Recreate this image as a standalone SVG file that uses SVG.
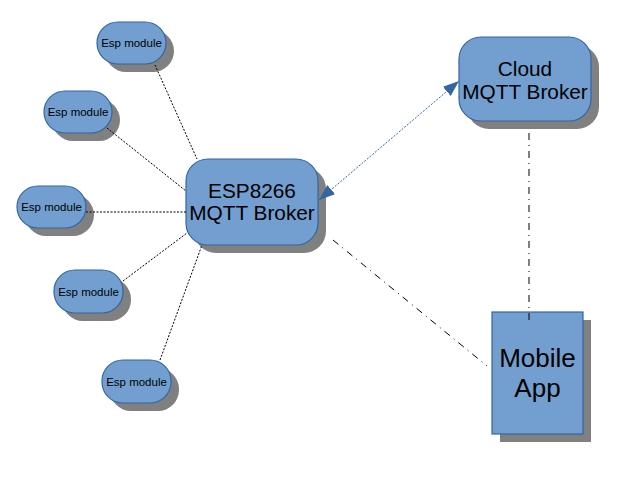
<svg xmlns="http://www.w3.org/2000/svg" width="624" height="482" viewBox="0 0 624 482">
<style>
.sh{fill:#808080;stroke:none}
.nd{fill:#729fcf;stroke:#3465a4;stroke-width:1.2}
.t{font-family:"Liberation Sans",Arial,sans-serif;fill:#000;text-anchor:middle}
.s{font-size:11.5px}
.m{font-size:20.8px}
.b{font-size:26px}
.dot{stroke:#000;stroke-width:1;stroke-dasharray:2 1.5;fill:none}
.dd{stroke:#000;stroke-width:1;stroke-dasharray:7 5 1 5;fill:none}
.blue{stroke:#3465a4;stroke-width:1;stroke-dasharray:2 1.5;fill:none}
</style>
<defs>
<marker id="ah" viewBox="0 0 16 12" refX="16" refY="6" markerWidth="16" markerHeight="12" markerUnits="userSpaceOnUse" orient="auto-start-reverse">
<path d="M0,0 L16,6 L0,12 Z" fill="#3465a4"/>
</marker>
</defs>
<g id="esp1">
<rect class="sh" x="105" y="30" width="69" height="42" rx="21"/>
<rect class="nd" x="97" y="22" width="69" height="42" rx="21"/>
<text class="t s" x="131.5" y="47">Esp module</text>
</g>
<g id="esp2">
<rect class="sh" x="52" y="99" width="68" height="42" rx="21"/>
<rect class="nd" x="44" y="91" width="68" height="42" rx="21"/>
<text class="t s" x="78" y="116">Esp module</text>
</g>
<g id="esp3">
<rect class="sh" x="25" y="194" width="69" height="42" rx="21"/>
<rect class="nd" x="17" y="186" width="69" height="42" rx="21"/>
<text class="t s" x="51.5" y="211">Esp module</text>
</g>
<g id="esp4">
<rect class="sh" x="62" y="278" width="69" height="43" rx="21"/>
<rect class="nd" x="54" y="270" width="69" height="43" rx="21"/>
<text class="t s" x="88.5" y="295.5">Esp module</text>
</g>
<g id="esp5">
<rect class="sh" x="110" y="368" width="69" height="43" rx="21"/>
<rect class="nd" x="102" y="360" width="69" height="43" rx="21"/>
<text class="t s" x="136.5" y="385.5">Esp module</text>
</g>
<g id="esp8266">
<rect class="sh" x="194" y="167" width="132" height="86" rx="22"/>
<rect class="nd" x="186" y="159" width="132" height="86" rx="22"/>
<text class="t m" x="252" y="197.5">ESP8266</text>
<text class="t m" x="252" y="219.5">MQTT Broker</text>
</g>
<g id="cloud">
<rect class="sh" x="467" y="45" width="132" height="84" rx="22"/>
<rect class="nd" x="459" y="37" width="132" height="84" rx="22"/>
<text class="t m" x="525" y="75.5">Cloud</text>
<text class="t m" x="525" y="98.5">MQTT Broker</text>
</g>
<g id="mobile">
<rect class="sh" x="500" y="320" width="91" height="122"/>
<rect class="nd" x="492" y="312" width="91" height="122"/>
<text class="t b" x="537.5" y="367">Mobile</text>
<text class="t b" x="537.5" y="397">App</text>
</g>
<g id="connectors">
<line class="dot" x1="155" y1="65" x2="197" y2="159"/>
<line class="dot" x1="107" y1="128" x2="186" y2="191"/>
<line class="dot" x1="86" y1="212" x2="186" y2="212"/>
<line class="dot" x1="123" y1="281" x2="187" y2="233"/>
<line class="dot" x1="160" y1="360" x2="202" y2="245"/>
<line class="blue" x1="319" y1="200" x2="459" y2="81" marker-start="url(#ah)" marker-end="url(#ah)"/>
<line class="dd" x1="529" y1="133" x2="529" y2="323"/>
<line class="dd" x1="333" y1="240" x2="487" y2="366"/>
</g>
</svg>
